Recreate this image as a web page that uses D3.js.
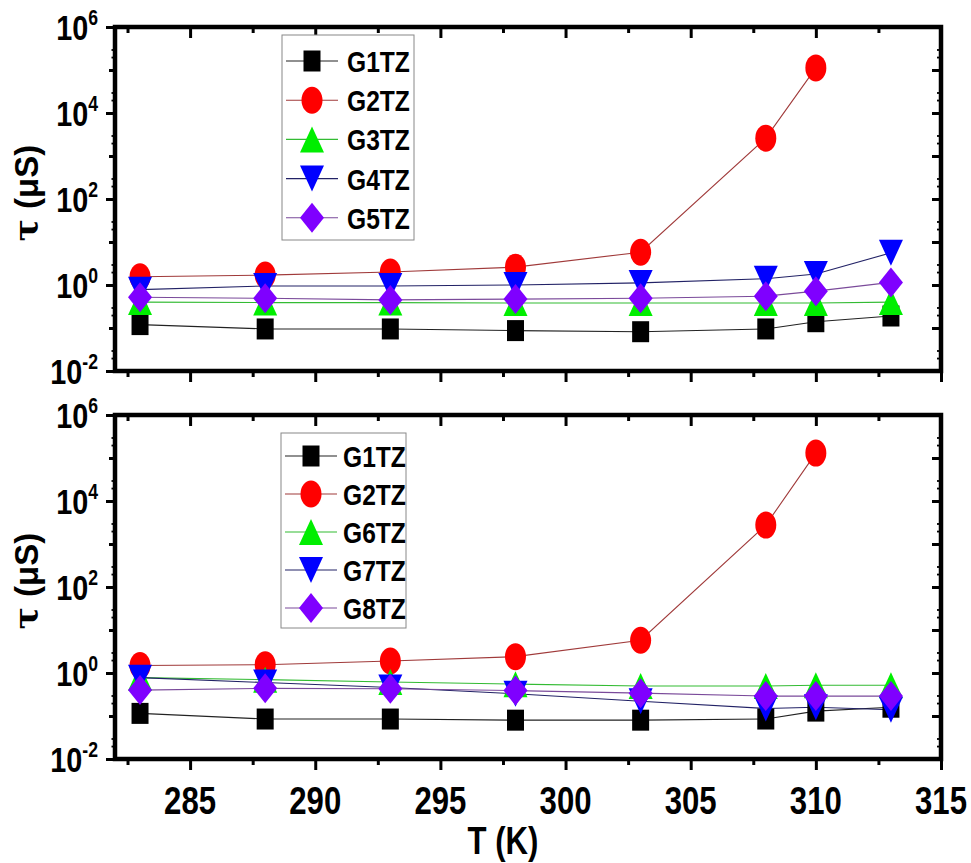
<!DOCTYPE html>
<html lang="en">
  <head>
    <meta charset="UTF-8" />
    <title>tau vs T</title>
    <script src="https://d3js.org/d3.v7.min.js"></script>
    <style>
      body { margin: 0; background: #fff; }
      text { font-family: 'Liberation Sans', Arial, sans-serif; font-weight: bold; fill: #000; }
    </style>
  </head>
  <body>
    <div id="chart"></div>
    <script>
      // temperatures (K)
      const temps = [283, 288, 293, 298, 303, 308, 310, 313]
      const xTicks = [285, 290, 295, 300, 305, 310, 315]
      const xMinor = [282.5, 287.5, 292.5, 297.5, 302.5, 307.5, 312.5]
      const yTicks = [1e-2, 1e0, 1e2, 1e4, 1e6]
      const yExp = ['-2', '0', '2', '4', '6']

      // top panel, tau (µS)
      const topG1 = [0.12, 0.095, 0.095, 0.087, 0.082, 0.095, 0.14, 0.19]
      const topG2 = [1.55, 1.7, 2.0, 2.6, 5.8, 2600, 112000]
      const topG3 = [0.4, 0.39, 0.39, 0.38, 0.38, 0.38, 0.38, 0.4]
      const topG4 = [0.78, 0.95, 0.95, 1.0, 1.12, 1.4, 1.8, 5.6]
      const topG5 = [0.52, 0.49, 0.45, 0.47, 0.49, 0.55, 0.72, 1.15]

      // bottom panel, tau (µS)
      const botG1 = [0.115, 0.085, 0.085, 0.08, 0.08, 0.085, 0.13, 0.16]
      const botG2 = [1.5, 1.56, 1.9, 2.4, 5.8, 2750, 130000]
      const botG6 = [0.78, 0.7, 0.62, 0.55, 0.5, 0.5, 0.52, 0.52]
      const botG7 = [0.78, 0.6, 0.46, 0.33, 0.22, 0.15, 0.16, 0.14]
      const botG8 = [0.4, 0.44, 0.43, 0.39, 0.34, 0.29, 0.29, 0.29]

      const width = 971
      const height = 863

      const shapes = {
        square: 'M-8.5,-10.5h17v21h-17Z',
        circle: 'M-10.5,0a10.5,13.5 0 1,0 21,0a10.5,13.5 0 1,0 -21,0Z',
        up: 'M0,-13L12,13L-12,13Z',
        down: 'M0,13L12,-13L-12,-13Z',
        diamond: 'M0,-15L12,0L0,15L-12,0Z'
      }

      const style = {
        G1TZ: { shape: 'square', fill: '#000000', line: '#222222' },
        G2TZ: { shape: 'circle', fill: '#ff0000', line: '#a03a3a' },
        G3TZ: { shape: 'up', fill: '#00ee00', line: '#33bb33' },
        G4TZ: { shape: 'down', fill: '#0000ff', line: '#222266' },
        G5TZ: { shape: 'diamond', fill: '#7f00ff', line: '#7a4a9a' },
        G6TZ: { shape: 'up', fill: '#00ee00', line: '#33bb33' },
        G7TZ: { shape: 'down', fill: '#0000ff', line: '#222266' },
        G8TZ: { shape: 'diamond', fill: '#7f00ff', line: '#7a4a9a' }
      }

      const panels = [
        {
          top: 27, bottom: 371, showX: false,
          legend: { x: 282, y: 35, w: 132, h: 205, tx: 347, y0: 61, step: 39.2 },
          series: [
            ['G1TZ', topG1], ['G2TZ', topG2], ['G3TZ', topG3], ['G4TZ', topG4], ['G5TZ', topG5]
          ]
        },
        {
          top: 415, bottom: 759, showX: true,
          legend: { x: 281, y: 433, w: 125, h: 195, tx: 343, y0: 456, step: 38 },
          series: [
            ['G1TZ', botG1], ['G2TZ', botG2], ['G6TZ', botG6], ['G7TZ', botG7], ['G8TZ', botG8]
          ]
        }
      ]

      const x = d3.scaleLinear().domain([282, 315]).range([115, 941])

      const svg = d3
        .select('#chart')
        .append('svg')
        .attr('width', width)
        .attr('height', height)

      svg.append('rect').attr('width', width).attr('height', height).attr('fill', '#fff')

      panels.forEach(p => {
        const y = d3.scaleLog().domain([1e-2, 1e6]).range([p.bottom, p.top])
        const g = svg.append('g')

        // data lines first
        const line = d3
          .line()
          .x((d, i) => x(temps[i]))
          .y(d => y(d))

        p.series.forEach(([name, vals]) => {
          g.append('path')
            .attr('d', line(vals))
            .attr('fill', 'none')
            .attr('stroke', style[name].line)
            .attr('stroke-width', 1.1)
        })

        // markers
        p.series.forEach(([name, vals]) => {
          g.selectAll(null)
            .data(vals)
            .enter()
            .append('path')
            .attr('d', shapes[style[name].shape])
            .attr('transform', (d, i) => `translate(${x(temps[i])},${y(d)})`)
            .attr('fill', style[name].fill)
        })

        // minor log ticks
        const yMinor = []
        const ySub = []
        for (let e = -2; e < 6; e++) {
          if (e % 2 !== 0) yMinor.push(Math.pow(10, e))
          ySub.push(2 * Math.pow(10, e), 3 * Math.pow(10, e))
        }

        const tidy = (sel, w) => {
          sel.select('.domain').remove()
          sel.selectAll('line').attr('stroke', '#000').attr('stroke-width', w)
          sel.selectAll('text').remove()
        }

        g.append('g').attr('transform', `translate(0,${p.bottom})`)
          .call(d3.axisBottom(x).tickValues(xTicks).tickSize(11)).call(s => tidy(s, 3))
        g.append('g').attr('transform', `translate(0,${p.bottom})`)
          .call(d3.axisBottom(x).tickValues(xMinor).tickSize(6)).call(s => tidy(s, 3))
        g.append('g').attr('transform', `translate(0,${p.top})`)
          .call(d3.axisTop(x).tickValues(xTicks).tickSize(-11)).call(s => tidy(s, 3))
        g.append('g').attr('transform', `translate(0,${p.top})`)
          .call(d3.axisTop(x).tickValues(xMinor).tickSize(-6)).call(s => tidy(s, 3))

        g.append('g').attr('transform', 'translate(115,0)')
          .call(d3.axisLeft(y).tickValues(yTicks).tickSize(9)).call(s => tidy(s, 3))
        g.append('g').attr('transform', 'translate(115,0)')
          .call(d3.axisLeft(y).tickValues(yMinor).tickSize(6)).call(s => tidy(s, 3))
        g.append('g').attr('transform', 'translate(115,0)')
          .call(d3.axisLeft(y).tickValues(ySub).tickSize(3.5)).call(s => tidy(s, 1.8))
        g.append('g').attr('transform', 'translate(941,0)')
          .call(d3.axisRight(y).tickValues(yTicks).tickSize(-9)).call(s => tidy(s, 3))
        g.append('g').attr('transform', 'translate(941,0)')
          .call(d3.axisRight(y).tickValues(yMinor).tickSize(-9)).call(s => tidy(s, 3))
        g.append('g').attr('transform', 'translate(941,0)')
          .call(d3.axisRight(y).tickValues(ySub).tickSize(-4)).call(s => tidy(s, 1.8))

        // frame
        g.append('rect')
          .attr('x', 115)
          .attr('y', p.top)
          .attr('width', 826)
          .attr('height', p.bottom - p.top)
          .attr('fill', 'none')
          .attr('stroke', '#000')
          .attr('stroke-width', 4.5)

        // y tick labels
        yTicks.forEach((v, i) => {
          const t = g.append('text')
            .attr('transform', `translate(98,${y(v) + 13}) scale(0.8,1)`)
            .attr('text-anchor', 'end')
            .style('font-size', '36px')
          t.append('tspan').text('10')
          t.append('tspan').attr('dy', -15).style('font-size', '22px').text(yExp[i])
        })

        // y title
        const yt = g.append('text')
          .attr('transform', `translate(38,${(p.top + p.bottom) / 2 - 6}) rotate(-90)`)
          .attr('text-anchor', 'middle')
          .style('font-size', '33px')
        yt.append('tspan').style('font-family', "'DejaVu Serif', serif").text('τ')
        yt.append('tspan').attr('dx', 10).text('(μS)')

        // legend
        const L = p.legend
        g.append('rect')
          .attr('x', L.x)
          .attr('y', L.y)
          .attr('width', L.w)
          .attr('height', L.h)
          .attr('fill', '#fff')
          .attr('stroke', '#888')
          .attr('stroke-width', 1)

        p.series.forEach(([name], i) => {
          const ly = L.y0 + i * L.step
          g.append('line')
            .attr('x1', L.x + 4)
            .attr('x2', L.x + 56)
            .attr('y1', ly)
            .attr('y2', ly)
            .attr('stroke', style[name].line)
            .attr('stroke-width', 1.1)
          g.append('path')
            .attr('d', shapes[style[name].shape])
            .attr('transform', `translate(${L.x + 30},${ly})`)
            .attr('fill', style[name].fill)
          g.append('text')
            .attr('transform', `translate(${L.tx},${ly + 11}) scale(0.82,1)`)
            .style('font-size', '30px')
            .text(name)
        })

        if (p.showX) {
          xTicks.forEach(v => {
            g.append('text')
              .attr('transform', `translate(${x(v)},814) scale(0.82,1)`)
              .attr('text-anchor', 'middle')
              .style('font-size', '38px')
              .text(v)
          })
          g.append('text')
            .attr('transform', 'translate(503,854) scale(0.82,1)')
            .attr('text-anchor', 'middle')
            .style('font-size', '38px')
            .text('T (K)')
        }
      })
    </script>
  </body>
</html>
